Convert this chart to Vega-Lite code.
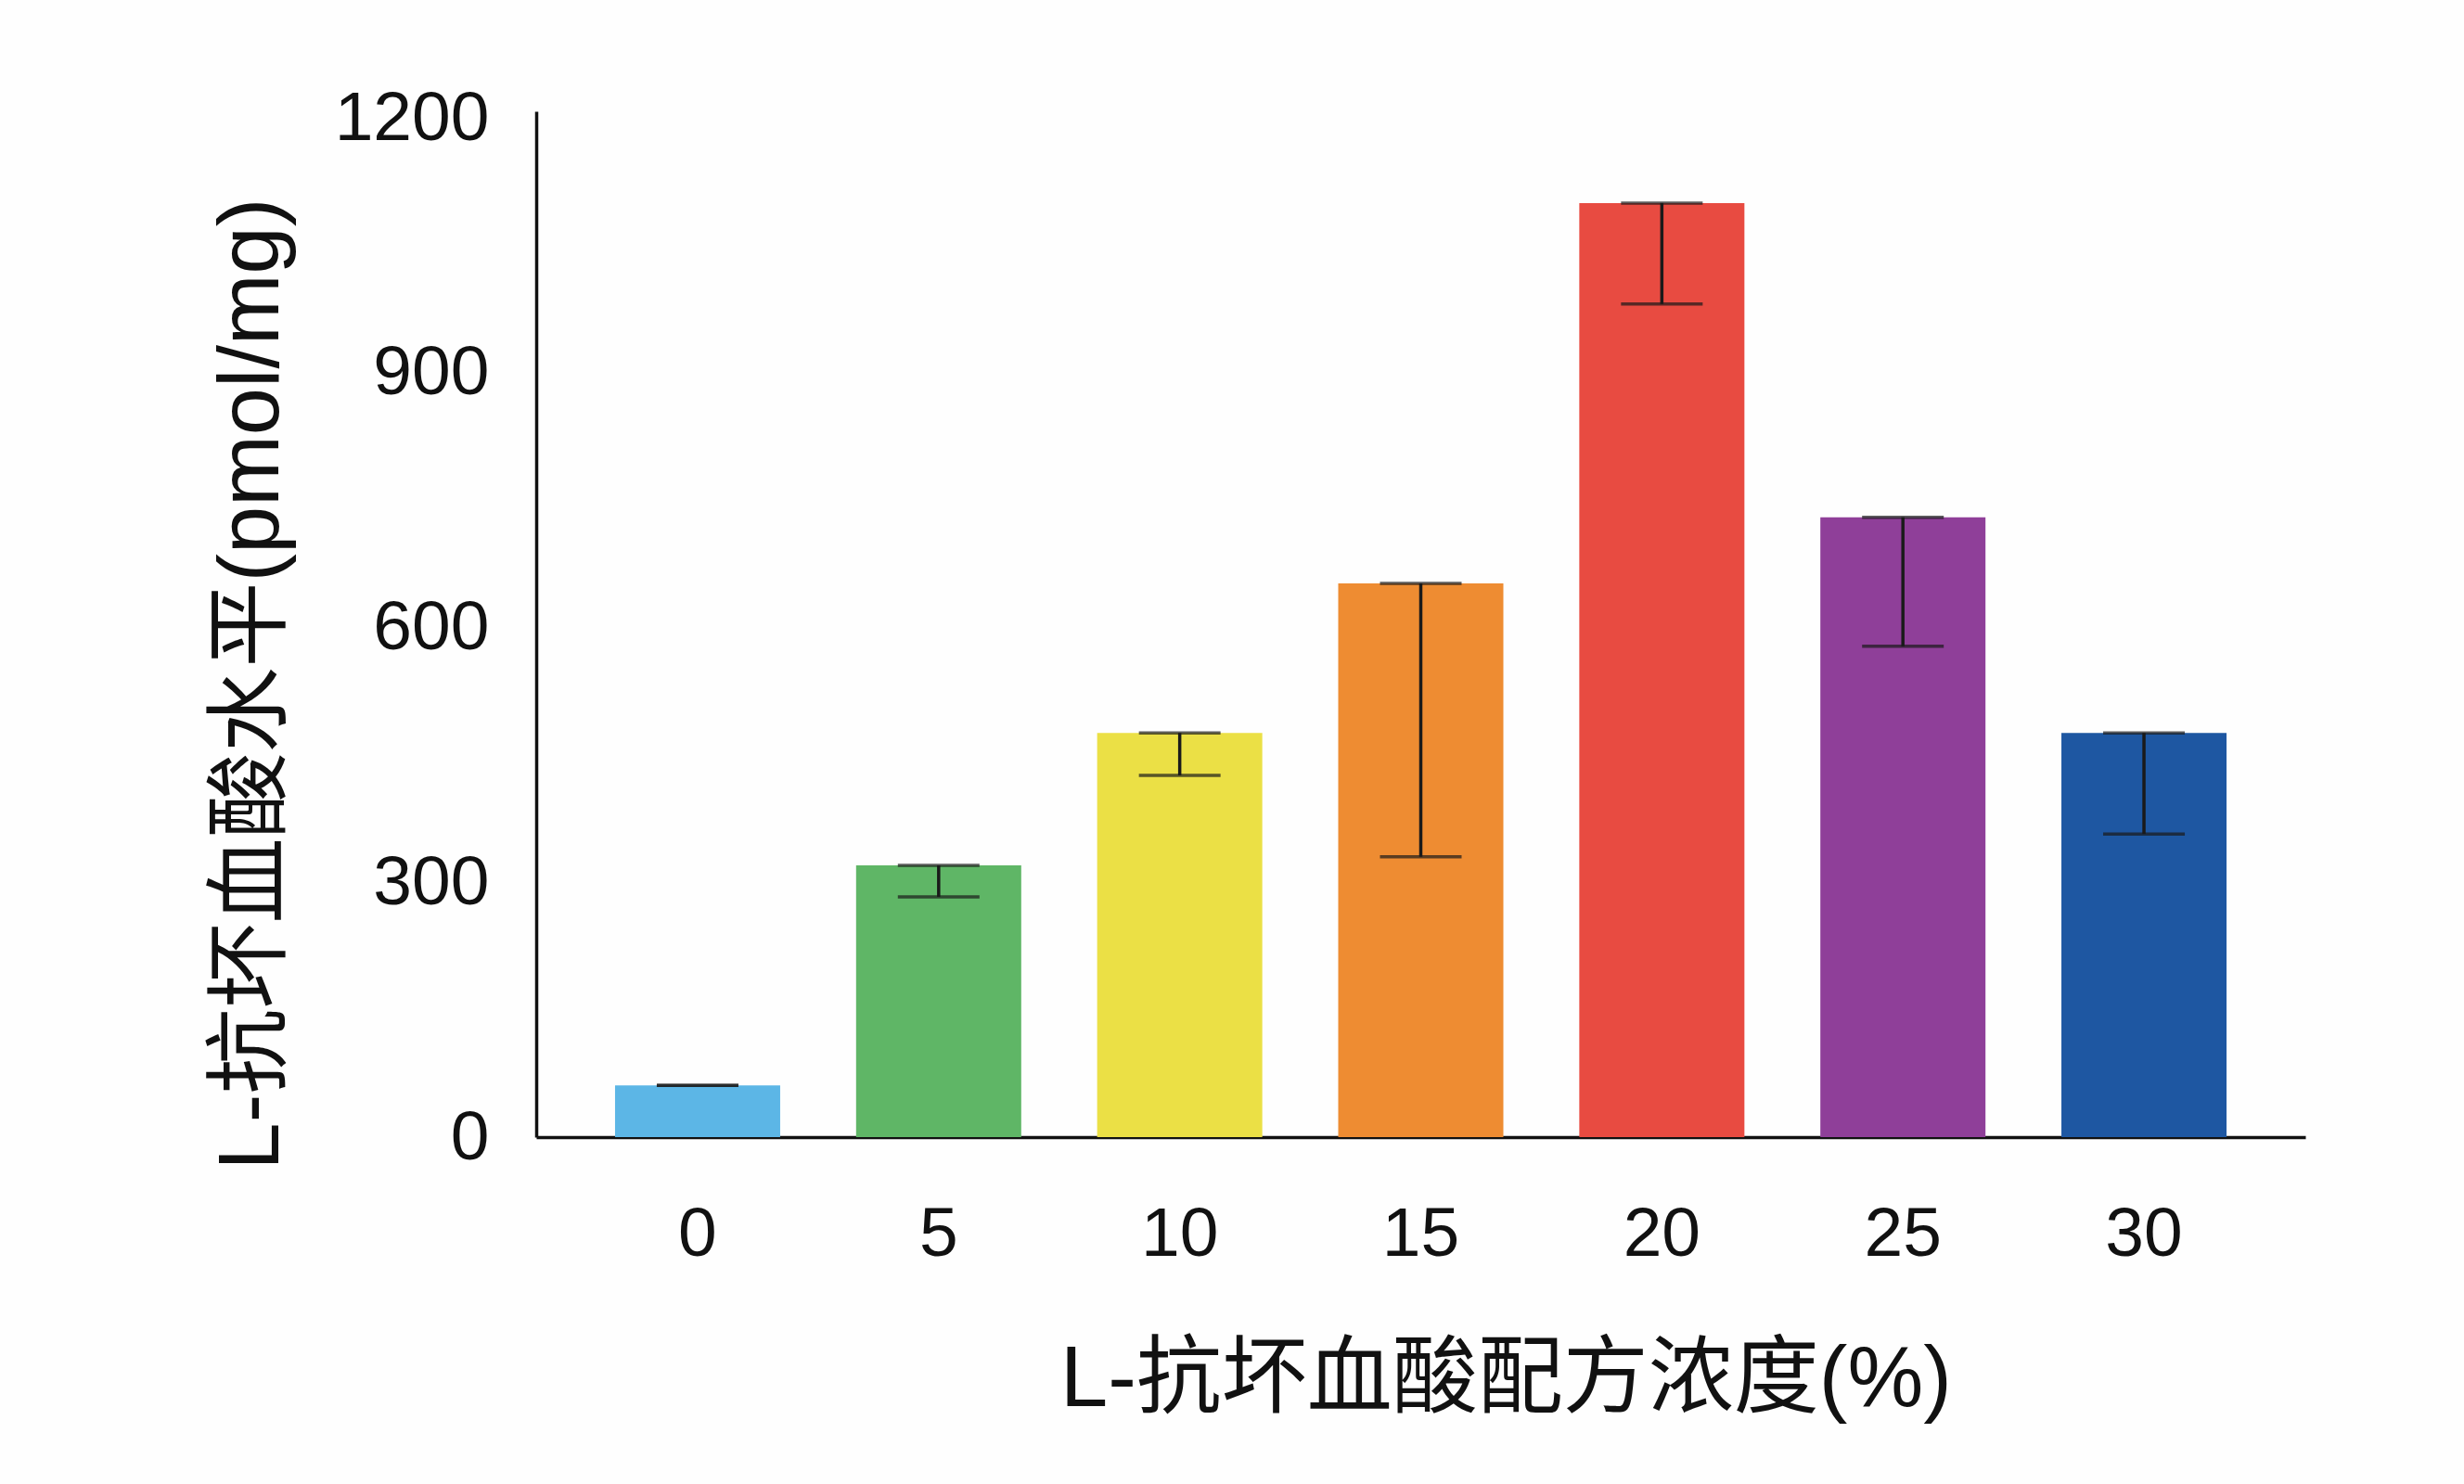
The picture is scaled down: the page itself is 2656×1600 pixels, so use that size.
{
  "$schema": "https://vega.github.io/schema/vega-lite/v6.json",
  "width": 1907,
  "height": 1106,
  "autosize": {"type": "none"},
  "padding": {"left": 578, "top": 120, "right": 171, "bottom": 374},
  "background": "#fefefe",
  "config": {
    "view": {"stroke": null},
    "font": "Liberation Sans, Noto Sans CJK SC"
  },
  "data": {
    "values": [
      {"conc": "0", "value": 61, "lower": 61},
      {"conc": "5", "value": 320, "lower": 283},
      {"conc": "10", "value": 476, "lower": 426},
      {"conc": "15", "value": 652, "lower": 330},
      {"conc": "20", "value": 1100, "lower": 981},
      {"conc": "25", "value": 730, "lower": 578},
      {"conc": "30", "value": 476, "lower": 357}
    ]
  },
  "encoding": {
    "x": {
      "field": "conc",
      "type": "ordinal",
      "sort": null,
      "scale": {"paddingInner": 0.315, "paddingOuter": 0.327},
      "axis": {
        "title": "L-抗坏血酸配方浓度(%)",
        "labelAngle": 0,
        "labelFont": "Liberation Sans",
        "labelFontSize": 75,
        "labelBaseline": "middle",
        "labelPadding": 104,
        "labelColor": "#111111",
        "ticks": false,
        "domainColor": "#111111",
        "domainWidth": 3.5,
        "titleFont": "Liberation Sans, Noto Sans CJK SC",
        "titleFontSize": 92,
        "titleFontWeight": "normal",
        "titleColor": "#111111",
        "titleLimit": 2000,
        "titleX": 1045,
        "titleY": 261,
        "titleAlign": "center",
        "titleBaseline": "middle"
      }
    }
  },
  "layer": [
    {
      "mark": {"type": "bar"},
      "encoding": {
        "y": {
          "field": "value",
          "type": "quantitative",
          "scale": {"domain": [0, 1208], "nice": false},
          "axis": {
            "title": "L-抗坏血酸水平(pmol/mg)",
            "values": [0, 300, 600, 900, 1200],
            "format": "d",
            "labelLimit": 400,
            "grid": false,
            "ticks": false,
            "labelFont": "Liberation Sans",
            "labelFontSize": 75,
            "labelPadding": 51,
            "labelColor": "#111111",
            "domainColor": "#111111",
            "domainWidth": 3.5,
            "titleFont": "Liberation Sans, Noto Sans CJK SC",
            "titleFontSize": 92,
            "titleFontWeight": "normal",
            "titleColor": "#111111",
            "titleLimit": 2000,
            "titleX": -307,
            "titleY": 617,
            "titleAlign": "center",
            "titleBaseline": "middle",
            "titleAngle": -90
          }
        },
        "color": {
          "field": "conc",
          "type": "nominal",
          "sort": null,
          "scale": {"range": ["#5cb6e6", "#5fb666", "#ebe045", "#ee8c32", "#e84b41", "#8f3f99", "#1e57a2"]},
          "legend": null
        }
      }
    },
    {
      "mark": {"type": "rule", "color": "#1a1a1a", "strokeWidth": 3.5},
      "encoding": {
        "y": {"field": "lower", "type": "quantitative"},
        "y2": {"field": "value"}
      }
    },
    {
      "mark": {"type": "tick", "color": "#1a1a1a", "thickness": 3.5, "size": 88, "orient": "horizontal"},
      "encoding": {
        "y": {"field": "value", "type": "quantitative"}
      }
    },
    {
      "mark": {"type": "tick", "color": "#1a1a1a", "thickness": 3.5, "size": 88, "orient": "horizontal"},
      "encoding": {
        "y": {"field": "lower", "type": "quantitative"}
      }
    }
  ]
}
